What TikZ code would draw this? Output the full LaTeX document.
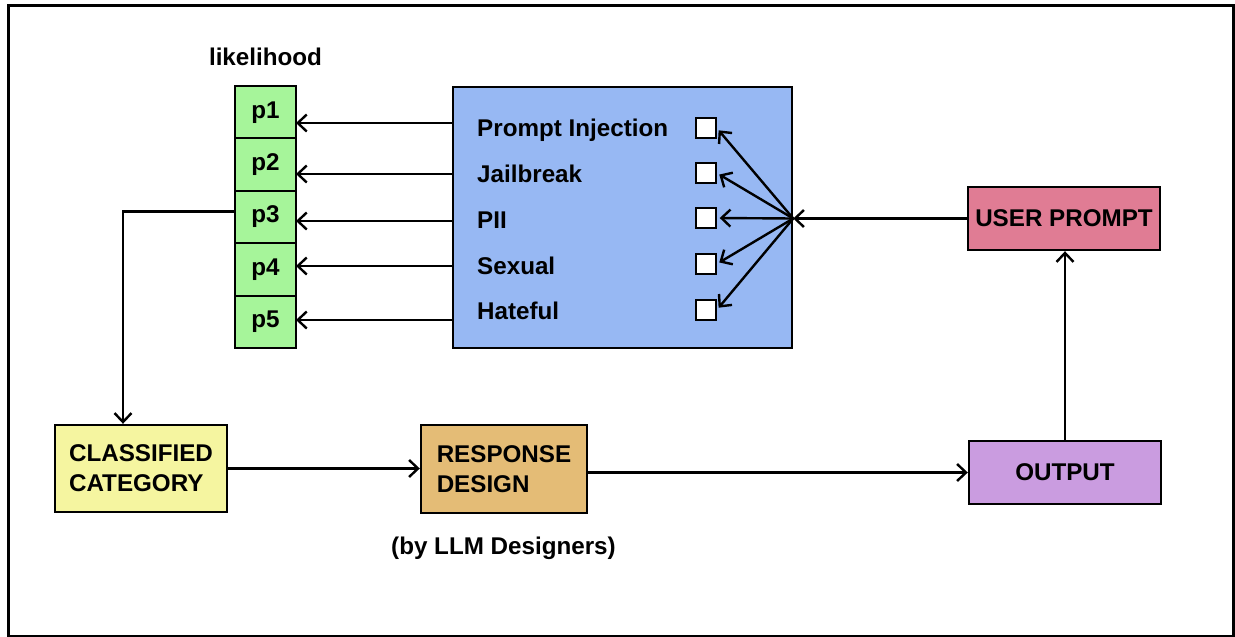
\documentclass[tikz,border=0pt]{standalone}
\usepackage{fontspec}
\setmainfont{Liberation Sans}
\usetikzlibrary{positioning,arrows.meta}
\definecolor{cellgreen}{RGB}{166,245,154}
\definecolor{detectblue}{RGB}{151,184,243}
\definecolor{promptpink}{RGB}{224,124,148}
\definecolor{outputpurple}{RGB}{202,156,224}
\definecolor{designorange}{RGB}{228,188,118}
\definecolor{classyellow}{RGB}{245,245,160}
\begin{document}
\begin{tikzpicture}
[ x=1pt, y=-1pt, line width=2.4pt
, font=\bfseries\fontsize{24.2}{30}\selectfont
, point/.style={coordinate}
, cell/.style={rectangle, draw, fill=cellgreen, minimum width=61pt, minimum height=52.4pt, outer sep=0pt, inner sep=0pt, line width=2pt}
, block/.style={rectangle, draw, align=left, inner sep=0pt}
, checkbox/.style={rectangle, draw, fill=white, minimum size=20pt, line width=1.4pt}
, category/.style={anchor=base west, inner sep=0pt}
, arrow/.style={-{Straight Barb[length=9pt, width=17pt]}}
]
\useasboundingbox (0,0) rectangle (1235,637);
\draw [line width=3pt] (8.5,5) rectangle (1233.5,636.5);
% Likelihood column:
\node (likelihood) [anchor=base] at (265.5,65) {likelihood};
\node (p1) [cell] at (265.5,112.2) {p1};
\node (p2) [cell, below=0pt of p1] {p2};
\node (p3) [cell, below=0pt of p2] {p3};
\node (p4) [cell, below=0pt of p3] {p4};
\node (p5) [cell, below=0pt of p4] {p5};
% Detector box:
\node (detector) [block, fill=detectblue, minimum width=339pt, minimum height=261pt] at (622.5,217.5) {};
\node (injection) [category] at (476,136) {Prompt Injection};
\node (jailbreak) [category] at (476,182) {Jailbreak};
\node (pii) [category] at (476,228) {PII};
\node (sexual) [category] at (476,274) {Sexual};
\node (hateful) [category] at (476,319) {Hateful};
\node (box1) [checkbox] at (706,128) {};
\node (box2) [checkbox] at (706,173) {};
\node (box3) [checkbox] at (706,218) {};
\node (box4) [checkbox] at (706,264) {};
\node (box5) [checkbox] at (706,310) {};
% Flow boxes:
\node (userprompt) [block, fill=promptpink, minimum width=192pt, minimum height=63pt] at (1064,218.5) {USER PROMPT};
\node (output) [block, fill=outputpurple, minimum width=192pt, minimum height=63pt] at (1065,472.5) {OUTPUT};
\node (classified) [block, fill=classyellow, minimum width=172pt, minimum height=87pt] at (141,468.5) {CLASSIFIED\\CATEGORY};
\node (response) [block, fill=designorange, minimum width=166pt, minimum height=88pt] at (504,469) {RESPONSE\\DESIGN};
\node (designers) at (503.5,548) {(by LLM Designers)};
\node (hub) [point] at (detector.east |- userprompt.west) {};
\coordinate (a1) at (detector.west |- 0,123);
\coordinate (a2) at (detector.west |- 0,174);
\coordinate (a3) at (detector.west |- 0,221);
\coordinate (a4) at (detector.west |- 0,266);
\coordinate (a5) at (detector.west |- 0,320);
\draw [arrow] (a1) -- (a1 -| p1.east);
\draw [arrow] (a2) -- (a2 -| p2.east);
\draw [arrow] (a3) -- (a3 -| p3.east);
\draw [arrow] (a4) -- (a4 -| p4.east);
\draw [arrow] (a5) -- (a5 -| p5.east);
\draw [arrow] (userprompt.west) -- (hub);
\draw [arrow, shorten >=3pt] (hub) -- (box1.east);
\draw [arrow, shorten >=3pt] (hub) -- (box2.east);
\draw [arrow, shorten >=3pt] (hub) -- (box3.east);
\draw [arrow, shorten >=3pt] (hub) -- (box4.east);
\draw [arrow, shorten >=3pt] (hub) -- (box5.east);
\draw [arrow] ([yshift=5.6pt]p3.west) -| ([xshift=-18pt]classified.north);
\draw [arrow] (classified.east) -- (classified.east -| response.west);
\draw [arrow] (response.east |- output.west) -- (output.west);
\draw [arrow] (output.north) -- (output.north |- userprompt.south);
\end{tikzpicture}
\end{document}
